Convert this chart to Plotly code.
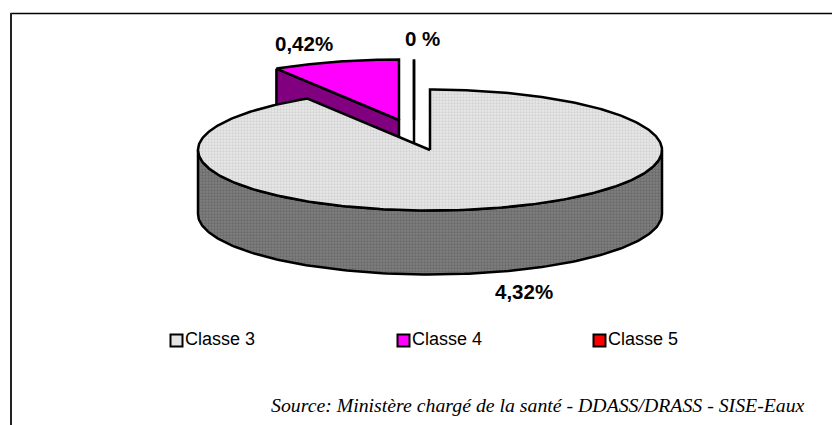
import numpy as np
import plotly.graph_objects as go

classes = ["Classe 3", "Classe 4", "Classe 5"]
values = [4.32, 0.42, 0.0]
value_labels = ["4,32%", "0,42%", "0 %"]
top_colors = ["#e4e4e4", "#ff00ff", "#ff0000"]
side_colors = ["#707070", "#800080", "#800000"]

W, H = 832, 425
CX, CY, RX, RY, DEPTH = 430, 150, 232, 60.5, 64
EXPLODE = [(0, 0), (-31, -30), (-16, -30)]
LABEL_POS = [(524, 291), (304, 43), (422, 38)]
LEGEND_X = [176.5, 403.5, 599.5]
LEGEND_Y = 340.5

total = sum(values)
edges = np.concatenate([[0], np.cumsum(values)]) / total * 360


def arc(cx, cy, a0, a1, n=160):
    t = np.radians(np.linspace(a0, a1, n))
    return cx + RX * np.sin(t), cy - RY * np.cos(t)


fig = go.Figure()
LINE = dict(color="black", width=2.5)


def poly(x, y, fill, pattern=None, name=None):
    fig.add_trace(go.Scatter(
        x=list(x), y=list(y), mode="lines", fill="toself", fillcolor=fill,
        fillpattern=pattern, line=LINE, hoverinfo="skip", showlegend=False,
    ))


# Exploded slices first (behind the big slice)
for i in (2, 1):
    dx, dy = EXPLODE[i]
    cx, cy = CX + dx, CY + dy
    a0, a1 = edges[i], edges[i + 1]
    ax, ay = arc(cx, cy, a0, a1, 60)
    # cut face toward the viewer
    poly([ax[0], cx, cx, ax[0], ax[0]],
         [ay[0], cy, cy + DEPTH, ay[0] + DEPTH, ay[0]], side_colors[i])
    poly(np.r_[cx, ax, cx], np.r_[cy, ay, cy], top_colors[i])

# Big slice: rim, then top
a0, a1 = edges[0], edges[1]
ux, uy = arc(CX, CY, 90, 270)
poly(np.r_[ux, ux[::-1], ux[0]], np.r_[uy, uy[::-1] + DEPTH, uy[0]], side_colors[0],
     dict(shape=".", size=3, solidity=0.45, fgcolor="#505050", bgcolor="#808080"))
ax, ay = arc(CX, CY, a0, a1, 400)
poly(np.r_[CX, ax, CX], np.r_[CY, ay, CY], top_colors[0],
     dict(shape=".", size=3, solidity=0.45, fgcolor="#bcbcbc", bgcolor="#e8e8e8"))

# Legend
for name, colour, lx in zip(classes, top_colors, LEGEND_X):
    fig.add_trace(go.Scatter(
        x=[lx], y=[LEGEND_Y], mode="markers+text", text=[name],
        textposition="middle right",
        textfont=dict(family="Liberation Sans", size=18, color="black"),
        marker=dict(symbol="square", size=12, color=colour, line=dict(color="black", width=2)),
        hoverinfo="skip", showlegend=False,
    ))

# Value labels
for lab, (lx, ly) in zip(value_labels, LABEL_POS):
    fig.add_annotation(x=lx, y=ly, text=f"<b>{lab}</b>", showarrow=False,
                       font=dict(family="Liberation Sans", size=20.5, color="black"))

fig.add_annotation(x=537.5, y=404.5, text="<i>Source: Ministère chargé de la santé - DDASS/DRASS - SISE-Eaux</i>",
                   showarrow=False, font=dict(family="Liberation Serif", size=19.8, color="black"))

fig.update_layout(
    width=W, height=H, margin=dict(l=0, r=0, t=0, b=0),
    paper_bgcolor="white", plot_bgcolor="white", showlegend=False,
    xaxis=dict(range=[0, W], visible=False, fixedrange=True),
    yaxis=dict(range=[H, 0], visible=False, fixedrange=True),
    shapes=[
        dict(type="line", x0=10.5, x1=W, y0=13.5, y1=13.5, line=dict(color="black", width=1.5), layer="below"),
        dict(type="line", x0=11, x1=11, y0=13, y1=H, line=dict(color="#222", width=2), layer="below"),
    ],
)
fig.write_html("out.html", config=dict(displayModeBar=False),
               post_script="document.body.style.margin='0';document.documentElement.style.overflow='hidden';")
